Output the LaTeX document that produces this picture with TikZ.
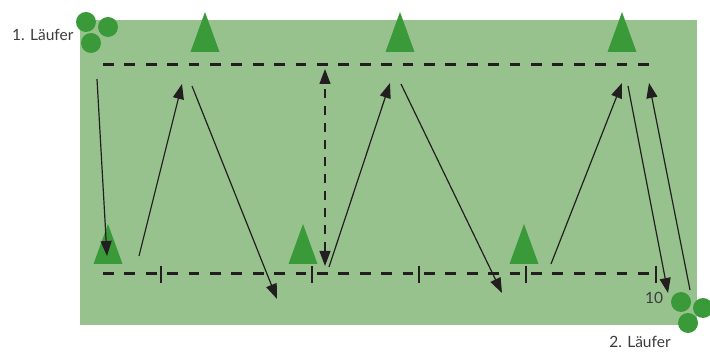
\documentclass[tikz,border=0pt]{standalone}
\usepackage{fontspec}
\setmainfont{Lato}
\usepackage{tikz}
\usetikzlibrary{arrows.meta, positioning}

\definecolor{fieldgreen}{RGB}{151,194,141}
\definecolor{markgreen}{RGB}{58,154,58}
\definecolor{lineblack}{RGB}{35,31,32}
\definecolor{txtgray}{RGB}{60,60,60}

\tikzset{
  cone/.pic={\fill[markgreen] (-14.5,0) -- (14.5,0) -- (0,-40) -- cycle;},
}

\begin{document}
\begin{tikzpicture}[
  x=1pt, y=-1pt,
  every node/.style={font=\fontsize{15.5}{18}\selectfont, text=txtgray},
  arr/.style={-{Triangle[length=15pt,width=11pt]}, line width=1.2pt, draw=lineblack},
  track/.style={line width=3pt, draw=lineblack, dash pattern=on 10.7pt off 10.7pt},
  tick/.style={line width=1.3pt, draw=lineblack},
  runner/.style={circle, fill=markgreen, minimum size=20pt, inner sep=0pt},
]
  \useasboundingbox (0,0) rectangle (710,352);
  \fill[fieldgreen] (80,20) rectangle (697,325);

  % cones
  \foreach \x in {205,400,622} {
    \pic at (\x,52) {cone};
  }
  \foreach \x in {108,303,524} {
    \pic at (\x,264) {cone};
  }

  % lines
  \draw[track] (103,65) -- (650,65);
  \draw[track] (103,274) -- (655,274);
  \foreach \x in {161,312,419,526,656} {
    \draw[tick] (\x,266) -- (\x,283);
  }
  \node (ten) at (654,298) {10};

  % runners
  \node[runner] (r1a) at (86,22) {};
  \node[runner] (r1b) at (108,27) {};
  \node[runner] (r1c) at (91,43) {};
  \node[anchor=east] (lab1) at (77,35) {1. Läufer};

  \node[runner] (r2a) at (681,302) {};
  \node[runner] (r2b) at (703,308) {};
  \node[runner] (r2c) at (688,323) {};
  \node (lab2) at (640,342) {2. Läufer};

  % runs
  \coordinate (p1) at (97,79);   \coordinate (q1) at (107,256);
  \coordinate (p2) at (139,256); \coordinate (q2) at (182,84);
  \coordinate (p3) at (192,86);  \coordinate (q3) at (277,299);
  \coordinate (p4) at (325,266); \coordinate (q4) at (325,69);
  \coordinate (p5) at (329,267); \coordinate (q5) at (390,83);
  \coordinate (p6) at (401,84);  \coordinate (q6) at (502,293);
  \coordinate (p7) at (551,264); \coordinate (q7) at (622,83);
  \coordinate (p8) at (628,86);  \coordinate (q8) at (668,293);
  \coordinate (p9) at (690,290); \coordinate (q9) at (649,83);

  \draw[arr] (p1) -- (q1);
  \draw[arr] (p2) -- (q2);
  \draw[arr] (p3) -- (q3);
  \draw[arr, {Triangle[length=15pt,width=11pt]}-{Triangle[length=15pt,width=11pt]},
        dash pattern=on 9pt off 8pt] (p4) -- (q4);
  \draw[arr] (p5) -- (q5);
  \draw[arr] (p6) -- (q6);
  \draw[arr] (p7) -- (q7);
  \draw[arr] (p8) -- (q8);
  \draw[arr] (p9) -- (q9);
\end{tikzpicture}
\end{document}
